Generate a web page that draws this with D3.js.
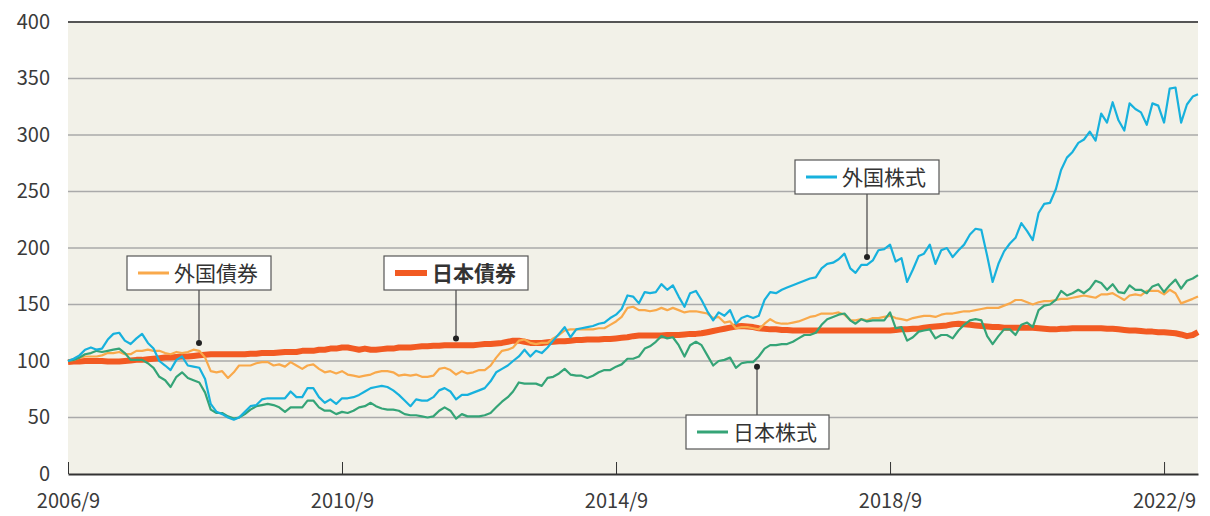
<!DOCTYPE html>
<html>
<head>
<meta charset="utf-8">
<script src="https://cdn.jsdelivr.net/npm/d3@7"></script>
<style>
  body { margin: 0; background: #fff; }
  svg text { font-family: "Noto Sans CJK JP", "Noto Sans", sans-serif; }
</style>
</head>
<body>
<div id="chart"></div>
<script>
// monthly index values, 2006/9 = 100 (start) to 2023/3
const startMonth = new Date(2006, 8, 1);
const endMonth = new Date(2023, 2, 1);
const xTickLabels = ["2006/9", "2010/9", "2014/9", "2018/9", "2022/9"];
const yTicks = [0, 50, 100, 150, 200, 250, 300, 350, 400];

const foreignStocks = [
    100, 102, 105, 110, 112, 110, 111, 119, 124, 125,
    118, 115, 120, 124, 116, 111, 100, 96, 92, 101,
    104, 96, 95, 94, 84, 62, 55, 53, 50, 48,
    50, 55, 60, 61, 66, 67, 67, 67, 67, 73,
    68, 68, 76, 76, 68, 63, 66, 62, 67, 67,
    68, 70, 73, 76, 77, 78, 77, 74, 70, 65,
    60, 66, 65, 65, 68, 74, 76, 73, 66, 70,
    70, 72, 74, 76, 82, 90, 93, 96, 100, 104,
    110, 104, 109, 107, 112, 118, 124, 130, 121, 128,
    129, 130, 131, 133, 134, 138, 141, 146, 158, 157,
    151, 161, 160, 161, 168, 163, 167, 157, 148, 160,
    162, 154, 144, 136, 143, 140, 145, 133, 138, 140,
    138, 140, 154, 161, 160, 163, 165, 167, 169, 171,
    173, 174, 182, 186, 187, 190, 195, 182, 178, 185,
    185, 189, 198, 199, 203, 188, 191, 170, 181, 193,
    195, 203, 186, 198, 200, 192, 198, 203, 212, 217,
    216, 193, 170, 186, 197, 204, 209, 222, 215, 207,
    231, 239, 240, 252, 269, 280, 285, 293, 296, 303,
    295, 319, 311, 329, 313, 304, 328, 323, 320, 309,
    328, 326, 311, 341, 342, 311, 327, 334, 336
];

const japanStocks = [
    100, 101, 103, 106, 107, 109, 108, 109, 110, 111,
    107, 101, 101, 101, 98, 94, 86, 83, 77, 86,
    90, 85, 83, 81, 72, 57, 54, 54, 51, 49,
    50, 53, 57, 60, 61, 62, 61, 59, 55, 59,
    59, 59, 65, 65, 59, 56, 56, 53, 55, 54,
    56, 59, 60, 63, 60, 58, 57, 57, 56, 53,
    52, 52, 51, 50, 51, 56, 59, 56, 49, 53,
    51, 51, 51, 52, 54, 59, 64, 68, 73, 81,
    80, 80, 80, 78, 85, 86, 89, 93, 88, 87,
    87, 85, 87, 90, 92, 92, 95, 97, 102, 102,
    104, 111, 113, 117, 122, 120, 121, 114, 104, 114,
    117, 114, 105, 96, 100, 101, 103, 94, 98, 99,
    99, 104, 111, 114, 114, 115, 115, 117, 120, 123,
    123, 125, 132, 137, 139, 141, 142, 136, 133, 137,
    135, 136, 136, 136, 143, 129, 130, 118, 121, 126,
    127, 128, 120, 123, 123, 120, 127, 132, 136, 137,
    136, 122, 115, 122, 128, 128, 123, 132, 134, 130,
    145, 149, 150, 154, 162, 158, 160, 163, 160, 164,
    171, 169, 163, 168, 161, 160, 167, 163, 163, 160,
    166, 168, 161, 167, 172, 164, 171, 173, 176
];

const foreignBonds = [
    100, 101, 103, 104, 104, 104, 105, 107, 107, 108,
    106, 106, 109, 109, 110, 109, 109, 107, 106, 108,
    107, 108, 110, 109, 103, 91, 90, 91, 85, 90,
    96, 96, 96, 98, 99, 99, 96, 97, 95, 99,
    96, 93, 96, 97, 93, 90, 91, 89, 91, 88,
    87, 86, 87, 88, 90, 91, 91, 90, 87, 88,
    87, 88, 86, 86, 87, 93, 94, 92, 88, 91,
    89, 90, 92, 92, 96, 103, 109, 110, 112, 118,
    119, 116, 115, 116, 116, 120, 123, 127, 128, 128,
    128, 128, 128, 129, 129, 132, 135, 139, 147, 148,
    145, 145, 144, 145, 147, 145, 147, 145, 143, 144,
    144, 143, 142, 138, 139, 134, 135, 129, 130, 130,
    129, 128, 133, 137, 134, 133, 133, 134, 135, 137,
    139, 140, 142, 142, 142, 143, 141, 136, 136, 137,
    136, 138, 138, 139, 140, 138, 137, 136, 138, 139,
    140, 140, 139, 141, 142, 142, 143, 144, 144, 145,
    146, 147, 147, 147, 149, 151, 154, 154, 152, 150,
    152, 153, 153, 154, 155, 155, 156, 157, 158, 157,
    156, 159, 159, 160, 157, 154, 158, 159, 158, 162,
    162, 162, 159, 163, 160, 151, 153, 155, 157
];

const japanBonds = [
    99, 99.5, 99.5, 100, 100, 100, 100, 99.5, 99.5, 99.5,
    100, 100.5, 101, 101, 101.5, 102, 102.5, 103, 103, 103.5,
    104, 104, 104.5, 105, 105.5, 106, 106, 106, 106, 106,
    106, 106, 106.5, 106.5, 107, 107, 107, 107.5, 108, 108,
    108, 109, 109, 109, 110, 110, 111, 111, 112, 112,
    111, 110, 111, 110, 110, 110.5, 111, 111, 112, 112,
    112, 112.5, 113, 113, 113.5, 113.5, 114, 114, 114, 114,
    114, 114, 114.5, 115, 115, 115.5, 116, 117, 118, 118,
    117, 116, 116, 116, 116.5, 117, 117.5, 117.5, 118, 118.5,
    118.5, 119, 119, 119, 119.5, 119.5, 120, 120.5, 121, 122,
    122.5, 122.5, 122.5, 122.5, 122.5, 123, 123, 123, 123.5, 124,
    124, 124.5, 125.5, 126.5, 127.5, 128.5, 129.5, 130.5, 131, 130.5,
    130, 129, 128.5, 128, 128, 127.5, 127.5, 127, 127, 127,
    127, 127, 127, 127, 127, 127, 127, 127, 127, 127,
    127, 127, 127, 127, 127, 127.5, 128, 128, 128.5, 128.5,
    129.5, 130, 130.5, 131, 131.5, 132.5, 133, 132.5, 132, 131.5,
    131, 130.5, 130, 130, 129.5, 129.5, 129.5, 129.5, 129.5, 129.5,
    129, 128.5, 128, 128, 128.5, 128.5, 129, 129, 129, 129,
    129, 129, 128.5, 128.5, 128, 127.5, 127, 127, 126.5, 126,
    126, 125.5, 125.5, 125, 124.5, 123.5, 122, 123, 125.5
];

const seriesNames = ["外国株式", "日本株式", "外国債券", "日本債券"];
const seriesValues = [foreignStocks, japanStocks, foreignBonds, japanBonds];
const seriesColors = ["#17b1dd", "#35a477", "#f9a94b", "#f25a22"];
const seriesWidths = [2.2, 2.2, 2.2, 6];

// legend callouts: series, value where the pin sits, box position
const callouts = [
    {series: 2, value: 116, boxX: 127, boxY: 256, boxW: 144, pin: 199},
    {series: 3, value: 120, boxX: 384, boxY: 256, boxW: 144, pin: 456},
    {series: 0, value: 192, boxX: 795, boxY: 160, boxW: 144, pin: 867},
    {series: 1, value: 95,  boxX: 686, boxY: 415, boxW: 143, pin: 757}
];

const config = {
    width: 1210,
    height: 516,
    margin: {top: 22, right: 12, bottom: 42, left: 68}
};

const innerW = config.width - config.margin.left - config.margin.right;
const innerH = config.height - config.margin.top - config.margin.bottom;

const months = d3.timeMonth.range(startMonth, d3.timeMonth.offset(endMonth, 1));

const svg = d3.select("#chart").append("svg")
    .attr("width", config.width)
    .attr("height", config.height);

const g = svg.append("g")
    .attr("transform", `translate(${config.margin.left}, ${config.margin.top})`);

const xScale = d3.scaleTime()
    .domain([startMonth, endMonth])
    .range([0, innerW]);

const yScale = d3.scaleLinear()
    .domain([0, 400])
    .range([innerH, 0]);

g.append("rect")
    .attr("width", innerW)
    .attr("height", innerH)
    .attr("fill", "#f2f1e8");

// horizontal grid
g.append("g")
    .selectAll("line")
    .data(yTicks.filter(d => d > 0))
    .join("line")
    .attr("x1", 0)
    .attr("x2", innerW)
    .attr("y1", d => yScale(d))
    .attr("y2", d => yScale(d))
    .attr("stroke", d => d === 400 ? "#555" : "#aaa")
    .attr("stroke-width", d => d === 400 ? 2 : 1.5);

// y labels
const yAxis = d3.axisLeft(yScale)
    .tickValues(yTicks)
    .tickSize(0)
    .tickPadding(18);

g.append("g")
    .call(yAxis)
    .call(s => s.select(".domain").remove())
    .selectAll("text")
    .attr("font-size", 20)
    .attr("fill", "#3a3a3a")
    .style("font-family", "'Noto Sans CJK JP', sans-serif");

// x axis with inward ticks
const tickDates = xTickLabels.map(d => {
    const [yy, mm] = d.split("/");
    return new Date(+yy, +mm - 1, 1);
});

const xAxis = d3.axisBottom(xScale)
    .tickValues(tickDates)
    .tickFormat((d, i) => xTickLabels[i])
    .tickSizeInner(-12)
    .tickSizeOuter(0)
    .tickPadding(20);

g.append("g")
    .attr("transform", `translate(0, ${innerH})`)
    .call(xAxis)
    .call(s => s.select(".domain").attr("stroke", "#333").attr("stroke-width", 2))
    .call(s => s.selectAll(".tick line").attr("stroke", "#333").attr("stroke-width", 1))
    .selectAll("text")
    .attr("font-size", 20)
    .attr("fill", "#3a3a3a")
    .style("font-family", "'Noto Sans CJK JP', sans-serif");

const line = d3.line()
    .x((d, i) => xScale(months[i]))
    .y(d => yScale(d));

// thin series first, thick 日本債券 on top
const drawOrder = [3, 2, 1, 0];
g.append("g")
    .selectAll("path")
    .data(drawOrder)
    .join("path")
    .attr("fill", "none")
    .attr("stroke", i => seriesColors[i])
    .attr("stroke-width", i => seriesWidths[i])
    .attr("stroke-linejoin", "round")
    .attr("d", i => line(seriesValues[i]));

// callouts
const labelLayer = svg.append("g");

callouts.forEach(c => {
    const px = c.pin;
    const py = yScale(c.value) + config.margin.top;
    const boxH = 34;
    const boxBottom = c.boxY + boxH;
    const fromY = c.boxY > py ? c.boxY : boxBottom;

    labelLayer.append("line")
        .attr("x1", px).attr("x2", px)
        .attr("y1", fromY).attr("y2", py)
        .attr("stroke", "#444")
        .attr("stroke-width", 1.2);

    labelLayer.append("circle")
        .attr("cx", px).attr("cy", py)
        .attr("r", 3)
        .attr("fill", "#222");

    labelLayer.append("rect")
        .attr("x", c.boxX).attr("y", c.boxY)
        .attr("width", c.boxW).attr("height", boxH)
        .attr("fill", "#fff")
        .attr("stroke", "#555")
        .attr("stroke-width", 1.2);

    const bold = c.series === 3;
    labelLayer.append("line")
        .attr("x1", c.boxX + 11).attr("x2", c.boxX + (bold ? 43 : 42))
        .attr("y1", c.boxY + boxH / 2).attr("y2", c.boxY + boxH / 2)
        .attr("stroke", seriesColors[c.series])
        .attr("stroke-width", bold ? 6 : 3);

    labelLayer.append("text")
        .attr("x", c.boxX + (bold ? 48 : 47))
        .attr("y", c.boxY + boxH / 2)
        .attr("dy", "0.36em")
        .attr("font-size", 21)
        .attr("font-weight", bold ? 700 : 400)
        .attr("fill", "#333")
        .text(seriesNames[c.series]);
});
</script>
</body>
</html>
